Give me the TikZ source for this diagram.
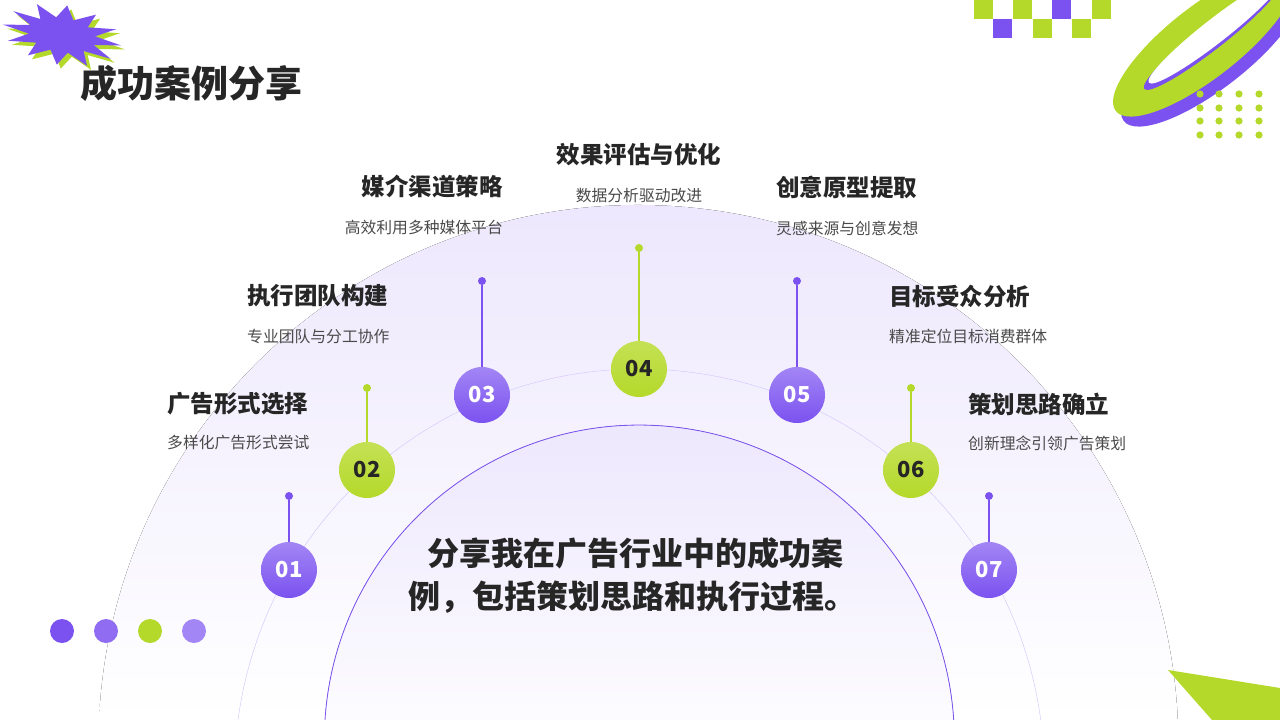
\documentclass[tikz,border=0pt]{standalone}
\usepackage{fontspec}
\setmainfont{Noto Sans CJK SC}
\usetikzlibrary{positioning,calc,shapes.geometric}
\definecolor{vio}{HTML}{7B52F0}
\definecolor{lime}{HTML}{B5D92A}
\definecolor{ink}{HTML}{262626}
\definecolor{sub}{HTML}{4A4A4A}
\tikzset{
  stepnum/.style={circle, minimum size=56pt, inner sep=0pt, text=white, font=\fontsize{22}{22}\selectfont\bfseries},
  vnum/.style={stepnum, top color=vio!70, bottom color=vio},
  lnum/.style={stepnum, top color=lime!80, bottom color=lime, text=ink},
  pin/.style={circle, minimum size=8pt, inner sep=0pt, fill=#1},
  headline/.style={font=\fontsize{23.5}{23.5}\selectfont\bfseries, text=ink, inner sep=0pt},
  subline/.style={font=\fontsize{15.8}{15.8}\selectfont, text=sub, inner sep=0pt},
}
\begin{document}
\begin{tikzpicture}[x=1pt, y=-1pt]
  \useasboundingbox (0,0) rectangle (1280,720);
  \fill[white] (0,0) rectangle (1280,720);

  %background arcs
  \fill[top color=vio!14, bottom color=white] (99,720) arc[start angle=182.65, end angle=357.35, radius=540] -- cycle;
  \fill[top color=vio!14, bottom color=vio!2] (325,720) arc[start angle=183.65, end angle=356.35, radius=315] -- cycle;
  \draw[vio, thick] (325,720) arc[start angle=183.65, end angle=356.35, radius=315];
  \draw[vio!35] (238,720) arc[start angle=187.66, end angle=352.34, radius=405];

  %title and decorations
  \node[font=\fontsize{37}{37}\selectfont\bfseries, text=ink, anchor=west, inner sep=0pt] (title) at (80,83) {成功案例分享};
  \fill[lime, shift={(66,39)}, rotate=-10, yscale=0.5] plot[samples=25, domain=0:360] (\x:{mod(round(\x/15),2)==0 ? 60 : 34}) -- cycle;
  \fill[vio, shift={(62,35)}, rotate=-10, yscale=0.5] plot[samples=25, domain=0:360] (\x:{mod(round(\x/15),2)==0 ? 60 : 34}) -- cycle;
  \foreach \xa/\ya/\col in {974/0/lime, 1013/0/lime, 1052/0/vio, 1092/0/lime, 993/19/vio, 1033/19/lime, 1072/19/lime}
    \fill[\col] (\xa,\ya) rectangle ++(19,19);
  \fill[vio, rotate around={38:(1212,52)}] (1212,52) ellipse[x radius=112, y radius=36];
  \fill[lime, rotate around={38:(1204,42)}] (1204,42) ellipse[x radius=112, y radius=36];
  \fill[vio, rotate around={38:(1212,36)}] (1212,36) ellipse[x radius=86, y radius=13];
  \fill[white, rotate around={38:(1215,31)}] (1215,31) ellipse[x radius=84, y radius=12];
  \foreach \xa in {1200,1219,1239,1259}
    \foreach \ya in {94,108,121,135}
      \fill[lime] (\xa,\ya) circle[radius=3.6];
  \foreach \xa/\col in {62/vio, 106/vio!85, 150/lime, 194/vio!70}
    \fill[\col] (\xa,631) circle[radius=12];
  \fill[lime] (1168,670) -- (1280,688) -- (1280,720) -- (1212,720) -- cycle;

  %steps
  \node[vnum] (s1) at (289,570) {01};
  \node[lnum] (s2) at (367,470) {02};
  \node[vnum] (s3) at (482,395) {03};
  \node[lnum] (s4) at (639,369) {04};
  \node[vnum] (s5) at (797,395) {05};
  \node[lnum] (s6) at (911,470) {06};
  \node[vnum] (s7) at (989,570) {07};
  \node[pin=vio] (p1) at (289,496) {};
  \node[pin=lime] (p2) at (367,388) {};
  \node[pin=vio] (p3) at (482,281) {};
  \node[pin=lime] (p4) at (639,248) {};
  \node[pin=vio] (p5) at (797,281) {};
  \node[pin=lime] (p6) at (911,388) {};
  \node[pin=vio] (p7) at (989,496) {};
  \foreach \i/\col in {1/vio,2/lime,3/vio,4/lime,5/vio,6/lime,7/vio}
    \draw[\col, line width=1.2pt] (p\i) -- (s\i);

  %labels
  \node[headline, anchor=west] (h1) at (167,404) {广告形式选择};
  \node[subline, anchor=west] (t1) at (167,443) {多样化广告形式尝试};
  \node[headline, anchor=west] (h2) at (247,296) {执行团队构建};
  \node[subline, anchor=west] (t2) at (247,336) {专业团队与分工协作};
  \node[headline, anchor=east] (h3) at (503,187) {媒介渠道策略};
  \node[subline, anchor=east] (t3) at (503,228) {高效利用多种媒体平台};
  \node[headline] (h4) at (639,155) {效果评估与优化};
  \node[subline] (t4) at (639,196) {数据分析驱动改进};
  \node[headline, anchor=west] (h5) at (776,187) {创意原型提取};
  \node[subline, anchor=west] (t5) at (776,228) {灵感来源与创意发想};
  \node[headline, anchor=west] (h6) at (889,296) {目标受众分析};
  \node[subline, anchor=west] (t6) at (889,336) {精准定位目标消费群体};
  \node[headline, anchor=west] (h7) at (968,404) {策划思路确立};
  \node[subline, anchor=west] (t7) at (968,443) {创新理念引领广告策划};

  \node[font=\fontsize{32}{43}\selectfont\bfseries, text=ink, align=center] (msg) at (632,576) {\ 分享我在广告行业中的成功案\\例，包括策划思路和执行过程。};
\end{tikzpicture}
\end{document}
